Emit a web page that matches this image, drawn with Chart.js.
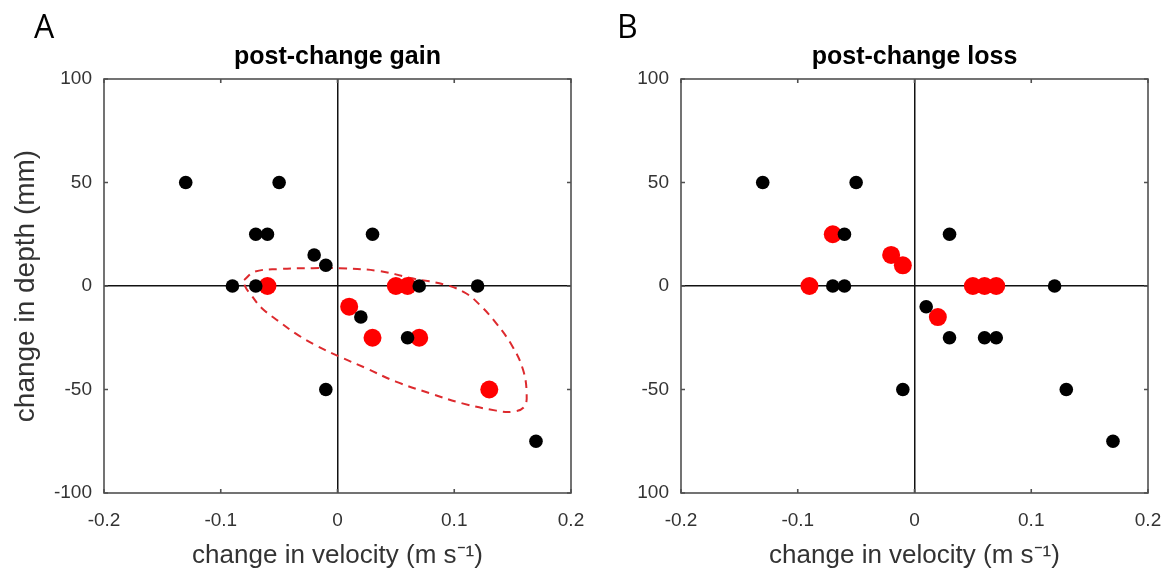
<!DOCTYPE html>
<html><head><meta charset="utf-8">
<script src="https://cdn.jsdelivr.net/npm/chart.js@4.4.0/dist/chart.umd.min.js"></script>
<style>
html,body{margin:0;padding:0;background:#fff;overflow:hidden;}
#wrap{position:relative;width:1173px;height:583px;background:#fff;}
canvas{position:absolute;top:0;}
</style></head><body>
<div id="wrap">
<canvas id="cA" width="590" height="583" style="left:0px"></canvas>
<canvas id="cB" width="583" height="583" style="left:590px"></canvas>
</div>
<script>
// ---- tick labels ----
const xTickLabels = ['-0.2', '-0.1', '0', '0.1', '0.2'];
const yTickLabelsA = ['-100', '-50', '0', '50', '100'];
const yTickLabelsB = ['100', '-50', '0', '50', '100'];

// ---- panel A: post-change gain ----
const blackAx = [-0.13, -0.05, -0.07, -0.06, 0.03, -0.02, -0.01, -0.09, -0.07, 0.07, 0.12, 0.02, 0.06, -0.01, 0.17];
const blackAy = [50, 50, 25, 25, 25, 15, 10, 0, 0, 0, 0, -15, -25, -50, -75];
const redAx = [-0.06, 0.05, 0.06, 0.01, 0.03, 0.07, 0.13];
const redAy = [0, 0, 0, -10, -25, -25, -50];

// dashed outline drawn around the red points in panel A (data units)
const outlineX = [-0.080, -0.071, -0.050, -0.021, 0.002, 0.036, 0.064, 0.093, 0.110, 0.122, 0.136, 0.150, 0.159, 0.162, 0.160, 0.150, 0.136, 0.107, 0.079, 0.050, 0.024, 0.002, -0.019, -0.036, -0.050, -0.065, -0.074, -0.079, -0.080];
const outlineY = [2.9, 6.9, 8.2, 8.6, 8.6, 7.2, 3.7, 0.5, -3.5, -9.2, -18.0, -29.3, -40.6, -51.8, -58.3, -60.7, -60.2, -56.7, -51.8, -46.2, -39.6, -34.2, -28.5, -22.9, -17.2, -10.6, -4.3, -0.3, 2.9];

// ---- panel B: post-change loss ----
const blackBx = [-0.13, -0.05, -0.06, 0.03, -0.07, -0.06, 0.12, 0.01, 0.03, 0.06, 0.07, -0.01, 0.13, 0.17];
const blackBy = [50, 50, 25, 25, 0, 0, 0, -10, -25, -25, -25, -50, -50, -75];
const redBx = [-0.09, -0.07, -0.02, -0.01, 0.05, 0.06, 0.07, 0.02];
const redBy = [0, 25, 15, 10, 0, 0, 0, -15];

const FONT = '"Liberation Sans", Arial, Helvetica, sans-serif';
const pts = (xs, ys) => xs.map((v, i) => ({x: v, y: ys[i]}));

const framePlugin = {
  id: 'frame',
  beforeDatasetsDraw(chart, args, opts) {
    const {ctx, chartArea: {left, right, top, bottom}, scales: {x, y}} = chart;
    ctx.save();
    ctx.strokeStyle = '#505050';
    ctx.lineWidth = 1.6;
    ctx.strokeRect(left, top, right - left, bottom - top);
    ctx.beginPath();
    x.ticks.forEach(t => {
      const px = x.getPixelForValue(t.value);
      ctx.moveTo(px, bottom); ctx.lineTo(px, bottom - 4);
      ctx.moveTo(px, top); ctx.lineTo(px, top + 4);
    });
    y.ticks.forEach(t => {
      const py = y.getPixelForValue(t.value);
      ctx.moveTo(left, py); ctx.lineTo(left + 4, py);
      ctx.moveTo(right, py); ctx.lineTo(right - 4, py);
    });
    ctx.stroke();
    ctx.restore();
  },
  afterDraw(chart, args, opts) {
    const ctx = chart.ctx;
    ctx.save();
    ctx.fillStyle = '#000';
    ctx.font = '32px "Open Sans", "Liberation Sans", sans-serif';
    ctx.textBaseline = 'alphabetic';
    ctx.textAlign = 'left';
    ctx.fillText(opts.letter, opts.lx, opts.ly);
    ctx.restore();
  }
};

const zeroColor = c => (Math.abs(c.tick.value) < 1e-9 ? '#111' : 'rgba(0,0,0,0)');

function makeChart(id, cfg) {
  const datasets = [
    {label: 'black', data: pts(cfg.bx, cfg.by), backgroundColor: '#000', borderColor: '#000',
     pointRadius: 6.8, pointBorderWidth: 0, showLine: false},
    {label: 'red', data: pts(cfg.rx, cfg.ry), backgroundColor: '#ff0000', borderColor: '#ff0000',
     pointRadius: 9, pointBorderWidth: 0, showLine: false}
  ];
  if (cfg.ox) {
    datasets.push({label: 'outline', data: pts(cfg.ox, cfg.oy), showLine: true, fill: false,
      borderColor: '#dd2a2e', borderWidth: 2, borderDash: [8, 6], tension: 0.4, pointRadius: 0});
  }
  return new Chart(document.getElementById(id), {
    type: 'scatter',
    data: {datasets},
    plugins: [framePlugin],
    options: {
      responsive: false,
      animation: false,
      layout: {padding: {left: 0, right: cfg.padRight, top: 0, bottom: 0}},
      plugins: {
        legend: {display: false},
        tooltip: {enabled: false},
        title: {display: true, text: cfg.title, fullSize: false, color: '#000',
          font: {family: FONT, size: 25, weight: 'bold', lineHeight: 1.2},
          padding: {top: 42, bottom: 7}},
        frame: {letter: cfg.letter, lx: cfg.lx, ly: 38}
      },
      scales: {
        x: {
          type: 'linear', min: -0.2, max: 0.2,
          afterFit: s => { s.height = 90; },
          afterBuildTicks: s => { s.ticks = xTickLabels.map((l, i) => ({value: -0.2 + i * 0.1})); },
          ticks: {color: '#333', padding: 2, font: {family: FONT, size: 19},
            callback: (v, i) => xTickLabels[i], maxRotation: 0},
          grid: {color: zeroColor, lineWidth: 1.5, drawTicks: true, tickLength: 14, tickColor: 'rgba(0,0,0,0)'},
          border: {display: false},
          title: {display: true, text: 'change in velocity (m s\u207B\u00B9)', color: '#333',
            font: {family: FONT, size: 26}, padding: {top: 0, bottom: 12}}
        },
        y: {
          type: 'linear', min: -100, max: 100,
          afterFit: s => { s.width = cfg.yWidth; },
          afterBuildTicks: s => { s.ticks = cfg.yLabels.map((l, i) => ({value: -100 + i * 50})); },
          ticks: {color: '#333', padding: 12, font: {family: FONT, size: 19},
            callback: (v, i) => cfg.yLabels[i]},
          grid: {color: zeroColor, lineWidth: 1.5, drawTicks: false},
          border: {display: false},
          title: {display: cfg.yTitle, text: 'change in depth (mm)', color: '#333',
            font: {family: FONT, size: 28}, padding: {top: 9, bottom: 0}}
        }
      }
    }
  });
}

makeChart('cA', {bx: blackAx, by: blackAy, rx: redAx, ry: redAy, ox: outlineX, oy: outlineY,
  title: 'post-change gain', letter: 'A', lx: 34, yLabels: yTickLabelsA, yTitle: true,
  yWidth: 104, padRight: 19});
makeChart('cB', {bx: blackBx, by: blackBy, rx: redBx, ry: redBy,
  title: 'post-change loss', letter: 'B', lx: 27, yLabels: yTickLabelsB, yTitle: false,
  yWidth: 91, padRight: 25});
</script>
</body></html>
